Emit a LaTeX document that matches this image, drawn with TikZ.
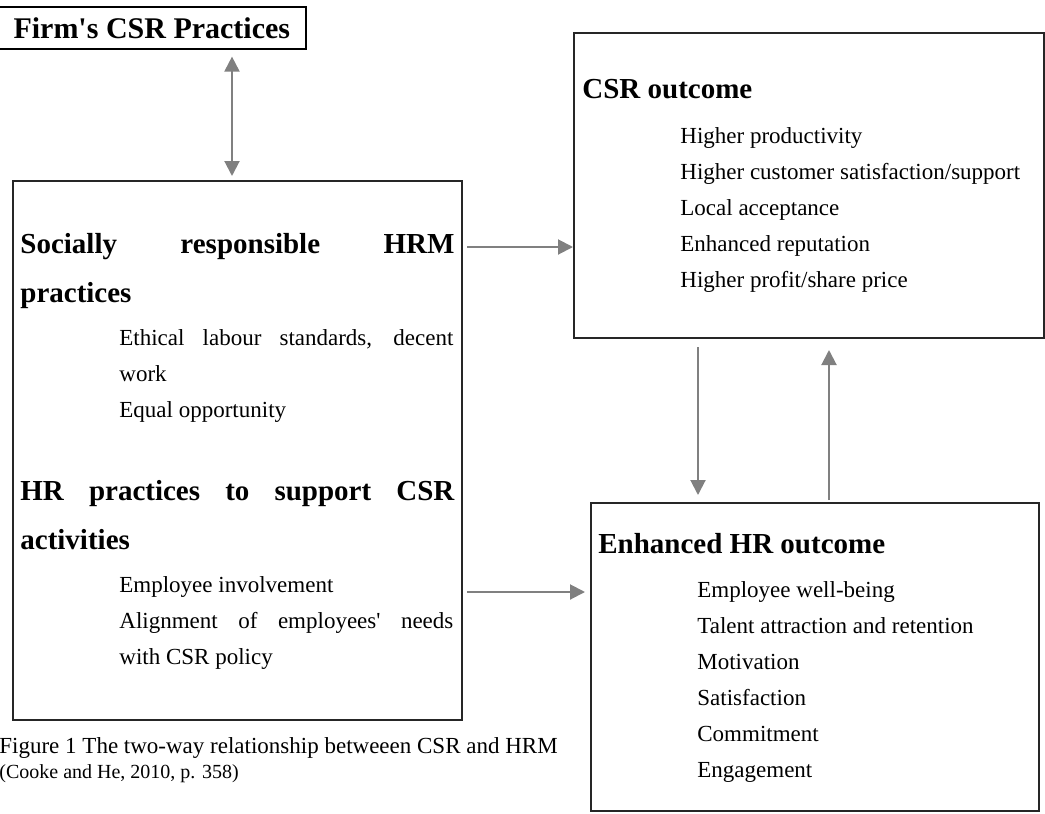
\documentclass[tikz,border=0pt]{standalone}
\usepackage{fontspec}
\setmainfont{Liberation Serif}
\usepackage{tikz}
\usetikzlibrary{arrows.meta,positioning,calc}
\tikzset{
  panel/.style    = {rectangle, draw=black!85, line width=1pt, inner sep=0pt, anchor=north west},
  titlebox/.style = {rectangle, draw=black, line width=0.8pt, inner sep=0pt, anchor=north west,
                     font=\fontsize{15}{18}\selectfont\bfseries, minimum width=154pt, minimum height=21pt},
  hd/.style       = {anchor=base west, inner sep=0pt, align=justify,
                     font=\fontsize{14.5}{24.5}\selectfont\bfseries},
  itm/.style      = {anchor=base west, inner sep=0pt, align=justify, text width=167pt,
                     font=\fontsize{11.5}{18}\selectfont},
  captext/.style  = {anchor=base west, inner sep=0pt, font=\fontsize{11.5}{14}\selectfont},
  lnk/.style      = {-{Triangle[length=7.5pt,width=7.5pt]}, draw=black!50, line width=1pt},
  dlnk/.style     = {{Triangle[length=7.5pt,width=7.5pt]}-{Triangle[length=7.5pt,width=7.5pt]},
                     draw=black!50, line width=1pt},
}

\begin{document}
\begin{tikzpicture}[x=0.5pt,y=-0.5pt]
  \useasboundingbox (0,0) rectangle (1045,814);
  \node[titlebox] (firm) at (-3,6) {Firm\textquotesingle s CSR Practices};
  % boxes
  \node[panel, minimum width=224.5pt, minimum height=269.5pt] (hrm) at (12,180) {};
  \node[panel, minimum width=235pt, minimum height=152.5pt] (csr) at (573,32) {};
  \node[panel, minimum width=224pt, minimum height=154pt] (hro) at (590,502) {};
  % left box texts
  \node[hd, text width=217pt] (srhrm) at (20,253) {Socially responsible HRM\linebreak practices};
  \node[itm] (srlist) at (119,345) {Ethical labour standards, decent\linebreak work\\ Equal opportunity};
  \node[hd, text width=217pt] (hrcsr) at (20,500) {HR practices to support CSR\linebreak activities};
  \node[itm] (hrlist) at (119,592) {Employee involvement\\ Alignment of employees\textquotesingle{} needs\linebreak with CSR policy};
  % right box texts
  \node[hd] (csrhd) at (582,98) {CSR outcome};
  \node[itm, text width=190pt] (csrlist) at (680,143) {Higher productivity\\ Higher customer satisfaction/support\\
    Local acceptance\\ Enhanced reputation\\ Higher profit/share price};
  \node[hd] (hrohd) at (598,553) {Enhanced HR outcome};
  \node[itm] (hrolist) at (697,597) {Employee well-being\\ Talent attraction and retention\\ Motivation\\
    Satisfaction\\ Commitment\\ Engagement};
  % caption
  \node[captext] (fig) at (-1,753) {Figure 1 The two-way relationship betweeen CSR and HRM};
  \node[captext, font=\fontsize{10}{12}\selectfont] (cite) at (-1,778) {(Cooke and He, 2010, p. 358)};
  % arrows
  \draw[dlnk, shorten <=3.5pt, shorten >=2pt] ([xshift=-2.75pt]hrm.north |- firm.south) -- ([xshift=-2.75pt]hrm.north);
  \draw[lnk] ([xshift=2pt,yshift=-33.5pt]hrm.north east) -- ([yshift=-33.5pt]hrm.north east -| csr.west);
  \draw[lnk, shorten >=2.5pt] ([xshift=2pt,yshift=64.5pt]hrm.south east) -- ([yshift=64.5pt]hrm.south east -| hro.west);
  \draw[lnk, shorten <=4pt, shorten >=3.5pt] ([xshift=62.5pt]csr.south west) -- ([xshift=62.5pt]csr.south west |- hro.north);
  \draw[lnk, shorten <=1pt, shorten >=5.5pt] ([xshift=128pt]csr.south west |- hro.north) -- ([xshift=128pt]csr.south west);
\end{tikzpicture}
\end{document}
